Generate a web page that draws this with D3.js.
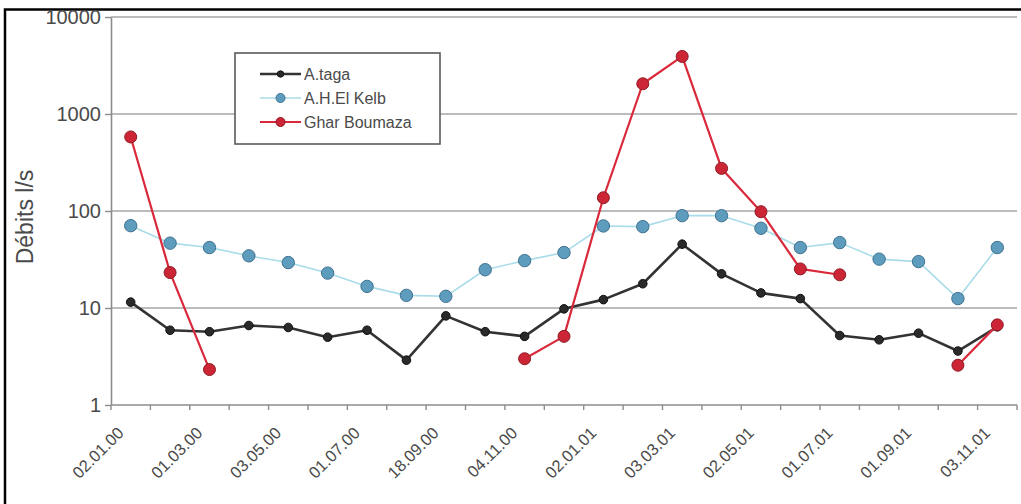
<!DOCTYPE html>
<html>
<head>
<meta charset="utf-8">
<script src="https://cdn.jsdelivr.net/npm/d3@7"></script>
<style>
  html, body { margin: 0; padding: 0; background: #fff; }
  svg { display: block; font-family: Arial, "Liberation Sans", sans-serif; }
</style>
</head>
<body>
<svg id="chart" width="1021" height="504"></svg>
<script>
// Sampling dates (one label every second sample)
const tickLabels = ["02.01.00", "01.03.00", "03.05.00", "01.07.00", "18.09.00", "04.11.00",
                    "02.01.01", "03.03.01", "02.05.01", "01.07.01", "01.09.01", "03.11.01"];
const sampleCount = 23;

// Discharge (l/s) per sample
const aTaga = [11.5, 5.9, 5.7, 6.6, 6.3, 5.0, 5.9, 2.9, 8.3, 5.7, 5.1, 9.8,
               12.2, 17.8, 45.5, 22.5, 14.3, 12.5, 5.2, 4.7, 5.5, 3.6, 6.4];
const aHElKelb = [70.6, 46.6, 42, 34.5, 29.4, 22.9, 16.7, 13.5, 13.2, 24.8, 30.8, 37.3,
                  70.1, 69, 89.5, 89.5, 66.4, 42, 47.2, 31.9, 30.1, 12.5, 42];
const gharBoumaza = [580, 23.2, 2.32, null, null, null, null, null, null, null, 3.0, 5.1,
                     137, 2050, 3920, 275, 98.4, 25.3, 22, null, null, 2.57, 6.7];
const yTicks = [1, 10, 100, 1000, 10000];

const svg = d3.select("#chart");
const margin = { left: 111, right: 1017, top: 17, bottom: 405 };

const x = d3.scaleBand()
  .domain(d3.range(sampleCount))
  .range([margin.left, margin.right])
  .paddingInner(0).paddingOuter(0);

const y = d3.scaleLog()
  .domain([1, 10000])
  .range([margin.bottom, margin.top]);

// outer frame (top and left edges)
svg.append("path")
  .attr("d", `M5,504 L5,9.5 L1021,9.5`)
  .attr("fill", "none")
  .attr("stroke", "#000")
  .attr("stroke-width", 2.5);

// horizontal gridlines
svg.append("g")
  .selectAll("line")
  .data(yTicks.slice(1))
  .join("line")
  .attr("x1", margin.left).attr("x2", margin.right)
  .attr("y1", d => y(d)).attr("y2", d => y(d))
  .attr("stroke", "#a6a6a6")
  .attr("stroke-width", 1.6);

// y axis
const yAxis = svg.append("g")
  .attr("transform", `translate(${margin.left},0)`)
  .call(d3.axisLeft(y).tickValues(yTicks).tickFormat(d3.format("d")).tickSize(6).tickSizeOuter(0));
yAxis.select(".domain").attr("stroke", "#8c8c8c").attr("stroke-width", 1.6);
yAxis.selectAll(".tick line").attr("stroke", "#8c8c8c").attr("stroke-width", 1.4);
yAxis.selectAll(".tick text")
  .attr("x", -10)
  .attr("font-size", 20)
  .attr("fill", "#4a4a4a")
  .attr("font-family", "Arial, 'Liberation Sans', sans-serif");

// x axis line and category boundary ticks
svg.append("line")
  .attr("x1", margin.left).attr("x2", margin.right)
  .attr("y1", y(1)).attr("y2", y(1))
  .attr("stroke", "#8c8c8c").attr("stroke-width", 1.6);
svg.append("g")
  .selectAll("line")
  .data(d3.range(sampleCount + 1))
  .join("line")
  .attr("x1", i => margin.left + i * x.step())
  .attr("x2", i => margin.left + i * x.step())
  .attr("y1", y(1)).attr("y2", y(1) + 5)
  .attr("stroke", "#8c8c8c").attr("stroke-width", 1.4);

// x tick labels, rotated
const xAxis = svg.append("g")
  .attr("transform", `translate(0,${y(1)})`)
  .call(d3.axisBottom(x)
    .tickValues(d3.range(0, sampleCount, 2))
    .tickFormat(i => tickLabels[i / 2])
    .tickSize(0));
xAxis.select(".domain").remove();
xAxis.selectAll(".tick text")
  .attr("font-size", 16.5)
  .attr("fill", "#4a4a4a")
  .attr("font-family", "Arial, 'Liberation Sans', sans-serif")
  .attr("text-anchor", "end")
  .attr("dy", null)
  .attr("y", null)
  .attr("transform", "translate(-6,29) rotate(-45)");

// y axis title
svg.append("text")
  .attr("transform", "translate(33,217) rotate(-90)")
  .attr("text-anchor", "middle")
  .attr("font-size", 23)
  .attr("fill", "#4a4a4a")
  .text("Débits l/s");

const cx = i => x(i) + x.bandwidth() / 2;
const line = d3.line()
  .defined(d => d != null)
  .x((d, i) => cx(i))
  .y(d => y(d));

const series = [
  { name: "A.taga", values: aTaga, line: "#333333", lw: 2.6, fill: "#2a2a2a", stroke: "#111", r: 4.3 },
  { name: "A.H.El Kelb", values: aHElKelb, line: "#a9dce9", lw: 1.6, fill: "#5e9cbd", stroke: "#3f7190", r: 6.2 },
  { name: "Ghar Boumaza", values: gharBoumaza, line: "#d9293b", lw: 2.2, fill: "#cc2636", stroke: "#8e1a25", r: 6 }
];

// draw lines then markers
series.forEach(s => {
  const g = svg.append("g");
  g.append("path")
    .attr("d", line(s.values))
    .attr("fill", "none")
    .attr("stroke", s.line)
    .attr("stroke-width", s.lw)
    .attr("stroke-linejoin", "round");
  g.selectAll("circle")
    .data(s.values.map((v, i) => ({ v, i })).filter(d => d.v != null))
    .join("circle")
    .attr("cx", d => cx(d.i))
    .attr("cy", d => y(d.v))
    .attr("r", s.r)
    .attr("fill", s.fill)
    .attr("stroke", s.stroke)
    .attr("stroke-width", 1);
});

// legend
const legend = svg.append("g").attr("transform", "translate(235,53)");
legend.append("rect")
  .attr("x", 0).attr("y", 0)
  .attr("width", 205).attr("height", 91)
  .attr("fill", "#fff")
  .attr("stroke", "#5a5a5a")
  .attr("stroke-width", 1.6);
series.forEach((s, k) => {
  const row = legend.append("g").attr("transform", `translate(0,${21 + k * 24})`);
  row.append("line")
    .attr("x1", 25).attr("x2", 66).attr("y1", 0).attr("y2", 0)
    .attr("stroke", s.line).attr("stroke-width", s.lw);
  row.append("circle")
    .attr("cx", 45.5).attr("cy", 0)
    .attr("r", k === 0 ? 3.2 : 4.5)
    .attr("fill", s.fill).attr("stroke", s.stroke).attr("stroke-width", 1);
  row.append("text")
    .attr("x", 69).attr("y", 0).attr("dy", "0.35em")
    .attr("font-size", 16)
    .attr("fill", "#4a4a4a")
    .text(s.name);
});
</script>
</body>
</html>
